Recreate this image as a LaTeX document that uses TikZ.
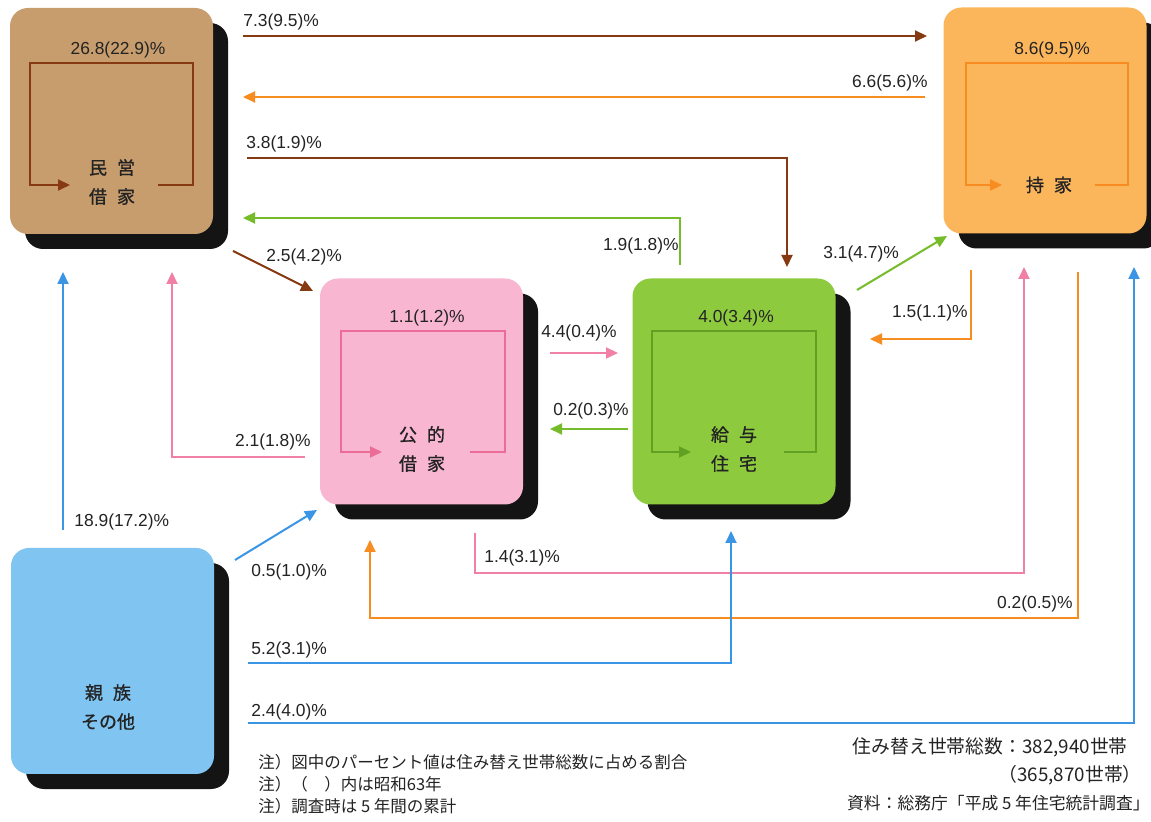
\documentclass[tikz,border=0pt]{standalone}
\usepackage{fontspec}
\setmainfont{Liberation Sans}
\newfontfamily\jp{Noto Sans CJK JP}
\newfontfamily\jpm[FakeBold=0.9]{Noto Sans CJK JP}
\usetikzlibrary{arrows.meta,shadows}
\definecolor{cA}{RGB}{199,157,110}
\definecolor{cB}{RGB}{248,182,208}
\definecolor{cC}{RGB}{142,202,62}
\definecolor{cD}{RGB}{251,182,92}
\definecolor{cE}{RGB}{128,196,242}
\definecolor{aBr}{RGB}{135,58,18}
\definecolor{aOr}{RGB}{247,140,32}
\definecolor{aGr}{RGB}{118,188,42}
\definecolor{aPk}{RGB}{240,128,168}
\definecolor{aBl}{RGB}{58,150,228}
\definecolor{iC}{RGB}{98,160,36}
\definecolor{iB}{RGB}{236,108,152}
\definecolor{txt}{RGB}{35,35,35}
\tikzset{
  box/.style={draw=none, rounded corners=9pt, inner sep=0pt,
    minimum width=101.5pt, minimum height=113pt,
    drop shadow={shadow xshift=7.5pt, shadow yshift=-7.5pt, fill=black!92, opacity=1}},
  arr/.style={line width=1pt, line join=miter, -{Triangle[length=6pt,width=5.5pt]}},
  lab/.style={inner sep=0pt, text=txt, font=\fontsize{8.7}{10}\selectfont},
  boxtext/.style={inner sep=0pt, text=txt, align=center, font=\jpm\fontsize{9}{14.5}\selectfont},
  note/.style={inner sep=0pt, text=txt, font=\jp\fontsize{8.25}{10}\selectfont},
  note2/.style={inner sep=0pt, text=txt, font=\jp\fontsize{9.4}{11}\selectfont},
  note3/.style={inner sep=0pt, text=txt, font=\jp\fontsize{8.4}{10}\selectfont},
}
\begin{document}
\begin{tikzpicture}[x=0.5pt,y=-0.5pt]
\useasboundingbox (0,0) rectangle (1151,822);
\fill[white] (0,0) rectangle (1151,822);

% boxes
\node[box, fill=cA] (A) at (111.5,121) {};
\node[box, fill=cD] (D) at (1045,120.5) {};
\node[box, fill=cB] (B) at (421.5,391.5) {};
\node[box, fill=cC] (C) at (734,391.5) {};
\node[box, fill=cE] (E) at (112.5,661) {};

% inner loops
\coordinate (a0) at (158,185); \coordinate (a1) at (70,185);
\draw[arr, aBr] (a0) -- (193,185) -- (193,63) -- (30,63) -- (30,185) -- (a1);
\coordinate (d0) at (1095,185); \coordinate (d1) at (1002,185);
\draw[arr, aOr] (d0) -- (1128,185) -- (1128,63) -- (966,63) -- (966,185) -- (d1);
\coordinate (b0) at (470,452); \coordinate (b1) at (382,452);
\draw[arr, iB] (b0) -- (505,452) -- (505,331) -- (341,331) -- (341,452) -- (b1);
\coordinate (c0) at (784,452); \coordinate (c1) at (691,452);
\draw[arr, iC] (c0) -- (816,452) -- (816,331) -- (652,331) -- (652,452) -- (c1);

% box texts
\node[boxtext] (At) at (112,182) {民\hspace{5pt}営\\借\hspace{5pt}家};
\node[boxtext] (Dt) at (1049,185) {持\hspace{5pt}家};
\node[boxtext] (Bt) at (422,449) {公\hspace{5pt}的\\借\hspace{5pt}家};
\node[boxtext] (Ct) at (734,449) {給\hspace{5pt}与\\住\hspace{5pt}宅};
\node[boxtext] (Et) at (108,707) {親\hspace{5pt}族\\その他};

% inner labels
\node[lab] (la) at (118,50) {26.8(22.9)\%};
\node[lab] (ld) at (1052,50) {8.6(9.5)\%};
\node[lab] (lb) at (427,318) {1.1(1.2)\%};
\node[lab] (lc) at (736,318) {4.0(3.4)\%};

% connectors
\coordinate (p1s) at (243,36); \coordinate (p1e) at (927,36);
\draw[arr, aBr] (p1s) -- (p1e);
\coordinate (p2s) at (925,97); \coordinate (p2e) at (243,97);
\draw[arr, aOr] (p2s) -- (p2e);
\coordinate (p3s) at (247,158); \coordinate (p3e) at (787,267);
\draw[arr, aBr] (p3s) -| (p3e);
\coordinate (p4s) at (680,265); \coordinate (p4e) at (243,218);
\draw[arr, aGr] (p4s) |- (p4e);
\coordinate (p5s) at (233,251); \coordinate (p5e) at (313,291);
\draw[arr, aBr] (p5s) -- (p5e);
\coordinate (p6s) at (857,290); \coordinate (p6e) at (947,236);
\draw[arr, aGr] (p6s) -- (p6e);
\coordinate (p7s) at (971,270); \coordinate (p7e) at (870,339);
\draw[arr, aOr] (p7s) |- (p7e);
\coordinate (p8s) at (550,353); \coordinate (p8e) at (618,353);
\draw[arr, aPk] (p8s) -- (p8e);
\coordinate (p9s) at (628,429); \coordinate (p9e) at (550,429);
\draw[arr, aGr] (p9s) -- (p9e);
\coordinate (p10s) at (305,457); \coordinate (p10e) at (172,272);
\draw[arr, aPk] (p10s) -| (p10e);
\coordinate (p11s) at (63,530); \coordinate (p11e) at (63,272);
\draw[arr, aBl] (p11s) -- (p11e);
\coordinate (p12s) at (235,560); \coordinate (p12e) at (317,510);
\draw[arr, aBl] (p12s) -- (p12e);
\coordinate (p13s) at (475,533); \coordinate (p13e) at (1024,267);
\draw[arr, aPk] (p13s) -- (475,573) -- (1024,573) -- (p13e);
\coordinate (p14s) at (1078,272); \coordinate (p14e) at (370,540);
\draw[arr, aOr] (p14s) -- (1078,618) -- (370,618) -- (p14e);
\coordinate (p15s) at (248,663); \coordinate (p15e) at (731,531);
\draw[arr, aBl] (p15s) -| (p15e);
\coordinate (p16s) at (248,723); \coordinate (p16e) at (1134,267);
\draw[arr, aBl] (p16s) -| (p16e);

% connector labels
\node[lab, anchor=west] (l1) at (243,22) {7.3(9.5)\%};
\node[lab, anchor=east] (l2) at (928,83) {6.6(5.6)\%};
\node[lab, anchor=west] (l3) at (246,144) {3.8(1.9)\%};
\node[lab, anchor=east] (l4) at (679,246) {1.9(1.8)\%};
\node[lab, anchor=west] (l5) at (266,257) {2.5(4.2)\%};
\node[lab, anchor=west] (l6) at (823,254) {3.1(4.7)\%};
\node[lab, anchor=east] (l7) at (968,313) {1.5(1.1)\%};
\node[lab] (l8) at (579,333) {4.4(0.4)\%};
\node[lab] (l9) at (591,411) {0.2(0.3)\%};
\node[lab, anchor=east] (l10) at (311,442) {2.1(1.8)\%};
\node[lab, anchor=west] (l11) at (74,522) {18.9(17.2)\%};
\node[lab, anchor=west] (l12) at (251,572) {0.5(1.0)\%};
\node[lab, anchor=west] (l13) at (484,558) {1.4(3.1)\%};
\node[lab, anchor=east] (l14) at (1073,604) {0.2(0.5)\%};
\node[lab, anchor=west] (l15) at (251,650) {5.2(3.1)\%};
\node[lab, anchor=west] (l16) at (251,712) {2.4(4.0)\%};

% notes
\node[note, anchor=west] (n1) at (258,762) {注）図中のパーセント値は住み替え世帯総数に占める割合};
\node[note, anchor=west] (n2) at (258,784) {注）（　）内は昭和63年};
\node[note, anchor=west] (n3) at (258,806) {注）調査時は 5 年間の累計};
\node[note2, anchor=east] (r1) at (1128,747) {住み替え世帯総数：382,940世帯};
\node[note2, anchor=east] (r2) at (1142,775) {（365,870世帯）};
\node[note3, anchor=east] (r3) at (1150,803) {資料：総務庁「平成 5 年住宅統計調査」};
\end{tikzpicture}
\end{document}
